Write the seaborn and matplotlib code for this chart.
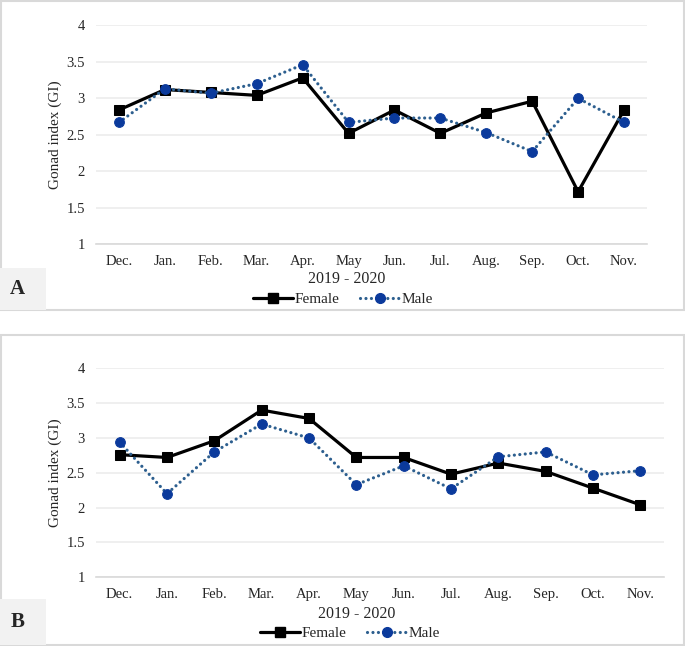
import pandas as pd
import seaborn as sns
import matplotlib.pyplot as plt
from matplotlib.patches import Rectangle
from matplotlib.lines import Line2D

# Data
months = ['Dec.', 'Jan.', 'Feb.', 'Mar.', 'Apr.', 'May', 'Jun.', 'Jul.', 'Aug.', 'Sep.', 'Oct.', 'Nov.']
female_a = [2.84, 3.12, 3.08, 3.04, 3.28, 2.52, 2.84, 2.52, 2.80, 2.96, 1.72, 2.84]
male_a = [2.67, 3.13, 3.07, 3.20, 3.46, 2.67, 2.73, 2.73, 2.53, 2.27, 3.00, 2.67]
female_b = [2.76, 2.72, 2.96, 3.40, 3.28, 2.72, 2.72, 2.48, 2.64, 2.52, 2.28, 2.04]
male_b = [2.94, 2.20, 2.80, 3.20, 3.00, 2.33, 2.60, 2.27, 2.73, 2.80, 2.47, 2.53]
yticks = [1, 1.5, 2, 2.5, 3, 3.5, 4]
panel_labels = ['A', 'B']

sns.set_style('white')
plt.rcParams['font.family'] = ['Liberation Serif', 'DejaVu Serif']

W, H = 685, 646
fig = plt.figure(figsize=(W / 100, H / 100), dpi=100)

FEMALE_COLOR = 'black'
MALE_LINE = '#2d5f8f'
MALE_MARK = '#0b3a9c'
DOTS = (0, (0.01, 1.7))


def px_rect(x0, y0, x1, y1):
    # convert pixel box (top-left origin) to figure fraction [l, b, w, h]
    return [x0 / W, 1 - y1 / H, (x1 - x0) / W, (y1 - y0) / H]


def draw_panel(ax, female, male):
    df = pd.DataFrame({'Month': months, 'Female': female, 'Male': male})
    sns.lineplot(data=df, x='Month', y='Female', ax=ax, color=FEMALE_COLOR, lw=2.3,
                 marker='s', markersize=6.5, markeredgecolor=FEMALE_COLOR, sort=False)
    sns.lineplot(data=df, x='Month', y='Male', ax=ax, color=MALE_LINE, lw=2.3,
                 linestyle=DOTS, dash_capstyle='round', marker='o', markersize=7,
                 markerfacecolor=MALE_MARK, markeredgecolor=MALE_MARK, sort=False)
    ax.set_xlim(-0.5, len(months) - 0.5)
    ax.set_ylim(1, 4)
    ax.set_yticks(yticks)
    ax.set_yticklabels([f'{t:g}' for t in yticks])
    ax.grid(axis='y', color='#ececec', lw=1.2)
    ax.set_axisbelow(True)
    for s in ['top', 'right', 'left']:
        ax.spines[s].set_visible(False)
    ax.spines['bottom'].set_color('#d9d9d9')
    ax.spines['bottom'].set_linewidth(1.2)
    ax.tick_params(length=0, pad=8, labelsize=10.5)
    ax.set_xlabel('')
    ax.set_ylabel('Gonad index (GI)', fontsize=11, va='center')


# panel frames and letter boxes
frames = [(1, 1, 684, 310), (1, 335, 684, 645)]
letter_boxes = [(0, 268, 46, 310), (0, 599, 46, 645)]
for (x0, y0, x1, y1) in frames:
    l, b, w, h = px_rect(x0, y0, x1, y1)
    fig.patches.append(Rectangle((l, b), w, h, transform=fig.transFigure, fill=False,
                                 edgecolor='#d9d9d9', lw=1.5))
for (x0, y0, x1, y1), lab in zip(letter_boxes, panel_labels):
    l, b, w, h = px_rect(x0, y0, x1, y1)
    fig.patches.append(Rectangle((l, b), w, h, transform=fig.transFigure,
                                 facecolor='#f2f2f2', edgecolor='none'))
    fig.text((x0 + x1) / 2 / W - 0.008, 1 - (y0 + y1) / 2 / H, lab, ha='center', va='center',
             fontsize=15, fontweight='bold')

ax_a = fig.add_axes(px_rect(96, 25.3, 647, 244.3))
ax_b = fig.add_axes(px_rect(96, 368.3, 664, 577.3))
draw_panel(ax_a, female_a, male_a)
draw_panel(ax_b, female_b, male_b)
ax_a.yaxis.set_label_coords((55 - 96) / 551, 0.5)
ax_b.yaxis.set_label_coords((55 - 96) / 568, 0.5)

# x titles and legends
fig.text(347 / W, 1 - 279 / H, '2019 - 2020', ha='center', va='center', fontsize=11.5)
fig.text(357 / W, 1 - 614 / H, '2019 - 2020', ha='center', va='center', fontsize=11.5)

handles = [
    Line2D([], [], color=FEMALE_COLOR, lw=2.3, marker='s', markersize=6.5),
    Line2D([], [], color=MALE_LINE, lw=2.3, linestyle=DOTS, dash_capstyle='round',
           marker='o', markersize=7, markerfacecolor=MALE_MARK, markeredgecolor=MALE_MARK),
]
for cx, cy in [(343, 299), (350, 633)]:
    fig.legend(handles, ['Female', 'Male'], loc='center', bbox_to_anchor=(cx / W, 1 - cy / H),
               ncol=2, frameon=False, fontsize=11, handlelength=2.6, handletextpad=0.1,
               columnspacing=1.4, borderpad=0, borderaxespad=0)

fig.savefig('out.png', dpi=100)
